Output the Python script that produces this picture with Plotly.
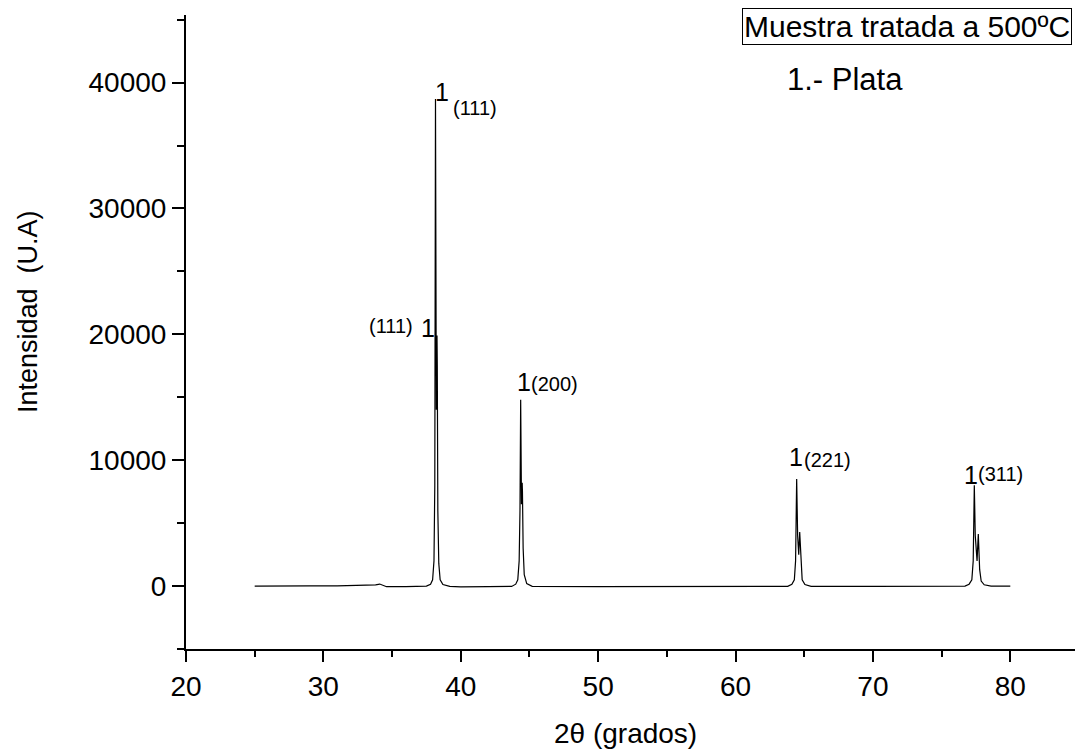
import plotly.graph_objects as go

# 2theta (degrees) and intensity (a.u.)
two_theta = [
    25.0, 26.5, 28.5, 29.0, 31.0, 33.0, 33.8, 34.1, 34.3, 34.6, 36.0, 37.3,
    37.5, 37.8, 37.95, 38.05, 38.11, 38.16, 38.22, 38.27, 38.29, 38.33, 38.4, 38.5, 38.7, 39.2,
    40.0, 42.0,
    43.7, 44.0, 44.15, 44.25, 44.31, 44.36, 44.42, 44.47, 44.49, 44.54, 44.62, 44.8, 45.2,
    50.0, 55.0, 60.0,
    63.8, 64.1, 64.28, 64.37, 64.42, 64.45, 64.52, 64.6, 64.67, 64.7, 64.76, 64.85, 65.05, 65.5,
    70.0, 75.0,
    76.7, 77.0, 77.2, 77.3, 77.35, 77.38, 77.45, 77.58, 77.67, 77.7, 77.77, 77.88, 78.1, 78.6, 80.0,
]
intensity = [
    0, 20, 60, 10, 20, 60, 100, 160, 60, -50, -50, -20,
    0, 150, 500, 2000, 8000, 38700, 14000, 19900, 17500, 6000, 1800, 500, 120, -30,
    -60, -40,
    -30, 150, 500, 2000, 6000, 14800, 6500, 8200, 7500, 3000, 900, 200, -20,
    -50, -40, -30,
    -20, 150, 500, 2000, 5000, 8500, 4000, 2500, 4300, 3500, 1500, 500, 120, -20,
    -30, -20,
    0, 150, 500, 2000, 5000, 8000, 4000, 2000, 4130, 3000, 1300, 400, 100, 0, 0,
]

# peak labels: big "1" and Miller-index labels
label_one_x = [37.95, 36.98, 43.98, 63.72, 76.48]
label_one_y = [39286, 20476, 16190, 10238, 8810]
hkl_text = ["(111)", "(111)", "(200)", "(221)", "(311)"]
hkl_x = [39.30, 33.18, 44.93, 64.86, 77.52]
hkl_y = [38016, 20635, 16032, 10000, 8889]

FONT = "Liberation Sans, Arial, sans-serif"

fig = go.Figure()
fig.add_trace(go.Scatter(
    x=two_theta, y=intensity, mode="lines",
    line=dict(color="black", width=1.2), showlegend=False,
))

annotations = []
for xx, yy in zip(label_one_x, label_one_y):
    annotations.append(dict(x=xx, y=yy, xref="x", yref="y", text="1",
                            showarrow=False, xanchor="left", yanchor="middle",
                            font=dict(family=FONT, size=25, color="black")))
for t, xx, yy in zip(hkl_text, hkl_x, hkl_y):
    annotations.append(dict(x=xx, y=yy, xref="x", yref="y", text=t,
                            showarrow=False, xanchor="left", yanchor="middle",
                            font=dict(family=FONT, size=20, color="black")))

annotations.append(dict(x=0.6226, y=1.011, xref="paper", yref="paper",
                        text="Muestra tratada a 500ºC", showarrow=False,
                        xanchor="left", yanchor="top", bordercolor="black",
                        borderwidth=1, borderpad=1,
                        font=dict(family=FONT, size=30, color="black")))
annotations.append(dict(x=0.671, y=0.899, xref="paper", yref="paper",
                        text="1.- Plata", showarrow=False,
                        xanchor="left", yanchor="middle",
                        font=dict(family=FONT, size=31, color="black")))
annotations.append(dict(x=-0.177, y=0.533, xref="paper", yref="paper",
                        text="Intensidad  (U.A)", showarrow=False, textangle=-90,
                        xanchor="center", yanchor="middle",
                        font=dict(family=FONT, size=27, color="black")))
annotations.append(dict(x=0.492, y=-0.134, xref="paper", yref="paper",
                        text="2θ (grados)", showarrow=False,
                        xanchor="center", yanchor="middle",
                        font=dict(family=FONT, size=28, color="black")))

# page body has an 8px margin, so the figure is 8px smaller than the window
fig.update_layout(
    width=1075, height=745,
    margin=dict(l=178, r=4, t=7, b=104),
    paper_bgcolor="white", plot_bgcolor="white",
    annotations=annotations,
    font=dict(family=FONT, color="black"),
)
fig.update_xaxes(
    range=[20, 85], tick0=20, dtick=10, showgrid=False, zeroline=False,
    showline=True, linecolor="black", linewidth=2,
    ticks="outside", ticklen=11, tickwidth=2, tickcolor="black",
    tickfont=dict(family=FONT, size=28, color="black"),
    minor=dict(ticks="outside", ticklen=6, tickwidth=2, tickcolor="black", dtick=5, tick0=20),
)
fig.update_yaxes(
    range=[-5000, 45370], tick0=0, dtick=10000, tickformat="d",
    showgrid=False, zeroline=False,
    showline=True, linecolor="black", linewidth=2,
    ticks="outside", ticklen=12, tickwidth=2, tickcolor="black",
    tickfont=dict(family=FONT, size=28, color="black"),
    minor=dict(ticks="outside", ticklen=7, tickwidth=2, tickcolor="black", dtick=5000, tick0=0),
)

fig.write_html("out.html")
